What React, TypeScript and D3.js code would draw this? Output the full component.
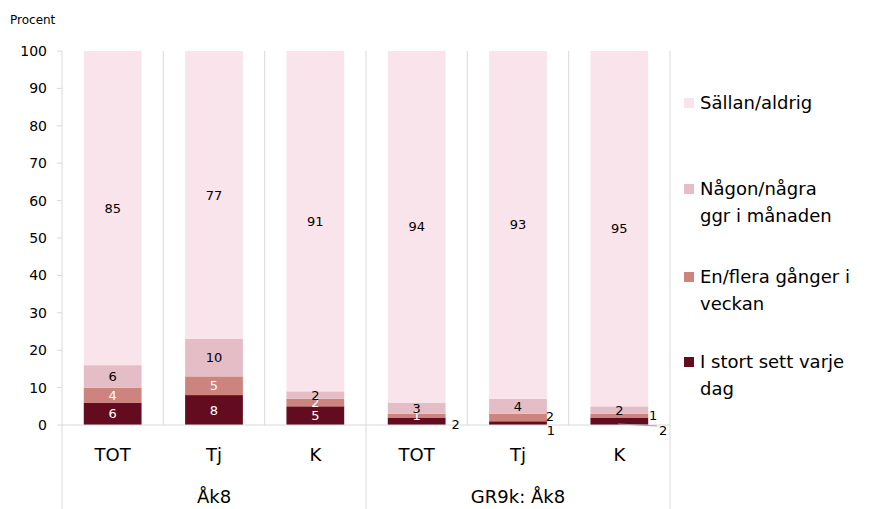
import React from "react";
import * as d3 from "d3";

const categories = ["TOT", "Tj", "K", "TOT", "Tj", "K"];
const groups = ["Åk8", "GR9k: Åk8"];
const daily = [6, 8, 5, 2, 1, 2];
const weekly = [4, 5, 2, 1, 2, 1];
const monthly = [6, 10, 2, 3, 4, 2];
const rarely = [85, 77, 91, 94, 93, 95];
const yTicks = [0, 10, 20, 30, 40, 50, 60, 70, 80, 90, 100];

const colors = ["#640c1f", "#cd837e", "#e4bdc7", "#f8e4ea"];
const labelColors = ["#ffffff", "#ffffff", "#000000", "#000000"];
const legendLines = [
  ["Sällan/aldrig"],
  ["Någon/några", "ggr i månaden"],
  ["En/flera gånger i", "veckan"],
  ["I stort sett varje", "dag"],
];

// manual label placements for tiny segments (series index, category index, dx from bar right, dy from segment middle)
const outsideLabels: { s: number; c: number; dx: number; dy: number; leader?: boolean }[] = [
  { s: 0, c: 3, dx: 10, dy: 3 },
  { s: 0, c: 4, dx: 4, dy: 7 },
  { s: 1, c: 4, dx: 3, dy: -1 },
  { s: 1, c: 5, dx: 5, dy: 0 },
  { s: 0, c: 5, dx: 15, dy: 9, leader: true },
];

const FONT = "'DejaVu Sans', Verdana, sans-serif";

export default function App() {
  const W = 877;
  const H = 509;
  const left = 62;
  const right = 670;
  const top = 51;
  const bottom = 425;

  const x = d3
    .scaleBand<number>()
    .domain(d3.range(categories.length))
    .range([left, right])
    .paddingInner(0.43)
    .paddingOuter(0.215);
  const y = d3.scaleLinear().domain([0, 100]).range([bottom, top]);
  const step = x.step();

  const series = [daily, weekly, monthly, rarely];
  const table = categories.map((_, i) => ({
    i,
    v0: daily[i],
    v1: weekly[i],
    v2: monthly[i],
    v3: rarely[i],
  }));
  const stack = d3.stack<any>().keys(["v0", "v1", "v2", "v3"])(table);

  const isOutside = (s: number, c: number) => outsideLabels.some((o) => o.s === s && o.c === c);

  return (
    <svg width={W} height={H} style={{ position: "absolute", left: 0, top: 0, fontFamily: FONT }}>
      <defs>
        <clipPath id="plotclip">
          <rect x={left} y={top} width={right - left} height={bottom - top} />
        </clipPath>
      </defs>
      <text x={10} y={24} fontSize={12} fill="#000">Procent</text>

      {/* vertical separators */}
      {d3.range(categories.length + 1).map((k) => {
        const xx = left + k * step;
        const isGroup = k === 0 || k === 3 || k === 6;
        return (
          <line
            key={"v" + k}
            x1={xx}
            x2={xx}
            y1={top}
            y2={isGroup ? H : bottom}
            stroke="#d9d9d9"
            strokeWidth={1}
          />
        );
      })}

      {/* y ticks */}
      {yTicks.map((t) => (
        <g key={"t" + t}>
          <line x1={left - 5} x2={left} y1={y(t)} y2={y(t)} stroke="#d9d9d9" />
          <text x={47} y={y(t)} dy="0.35em" textAnchor="end" fontSize={14} fill="#000">
            {t}
          </text>
        </g>
      ))}

      {/* bars */}
      <g clipPath="url(#plotclip)">
        {stack.map((layer, s) =>
          layer.map((d, c) => (
            <rect
              key={`b${s}-${c}`}
              x={x(c)!}
              width={x.bandwidth()}
              y={y(d[1])}
              height={y(d[0]) - y(d[1])}
              fill={colors[s]}
            />
          ))
        )}
      </g>

      <line x1={left} x2={right} y1={bottom} y2={bottom} stroke="#d9d9d9" />

      {/* inside labels */}
      {stack.map((layer, s) =>
        layer.map((d, c) => {
          if (isOutside(s, c)) return null;
          const mid = (d[0] + Math.min(d[1], 100)) / 2;
          return (
            <text
              key={`l${s}-${c}`}
              x={x(c)! + x.bandwidth() / 2}
              y={y(mid)}
              dy="0.35em"
              textAnchor="middle"
              fontSize={13}
              fill={labelColors[s]}
            >
              {series[s][c]}
            </text>
          );
        })
      )}

      {/* outside labels */}
      {outsideLabels.map((o, k) => {
        const d = stack[o.s][o.c];
        const bx = x(o.c)! + x.bandwidth();
        const by = y((d[0] + d[1]) / 2);
        return (
          <g key={"o" + k}>
            {o.leader && (
              <line x1={bx - 30} y1={y(0) - 1} x2={bx + o.dx - 6} y2={y(0) + 1} stroke="#a6a6a6" />
            )}
            <text x={bx + o.dx} y={by + o.dy} dy="0.35em" textAnchor="middle" fontSize={13} fill="#000">
              {series[o.s][o.c]}
            </text>
          </g>
        );
      })}

      {/* category labels */}
      {categories.map((c, i) => (
        <text key={"c" + i} x={x(i)! + x.bandwidth() / 2} y={455} dy="0.35em" textAnchor="middle" fontSize={18} fill="#000">
          {c}
        </text>
      ))}
      {groups.map((g, i) => (
        <text key={"g" + i} x={left + step * (1.5 + 3 * i)} y={497} dy="0.35em" textAnchor="middle" fontSize={18} fill="#000">
          {g}
        </text>
      ))}

      {/* legend */}
      {legendLines.map((lines, k) => {
        const ys = [103, 189, 277, 362][k];
        return (
          <g key={"lg" + k}>
            <rect x={684} y={ys - 5} width={10} height={10} fill={colors[3 - k]} />
            {lines.map((ln, j) => (
              <text key={j} x={700} y={ys + j * 27} dy="0.35em" fontSize={18} fill="#000">
                {ln}
              </text>
            ))}
          </g>
        );
      })}
    </svg>
  );
}
